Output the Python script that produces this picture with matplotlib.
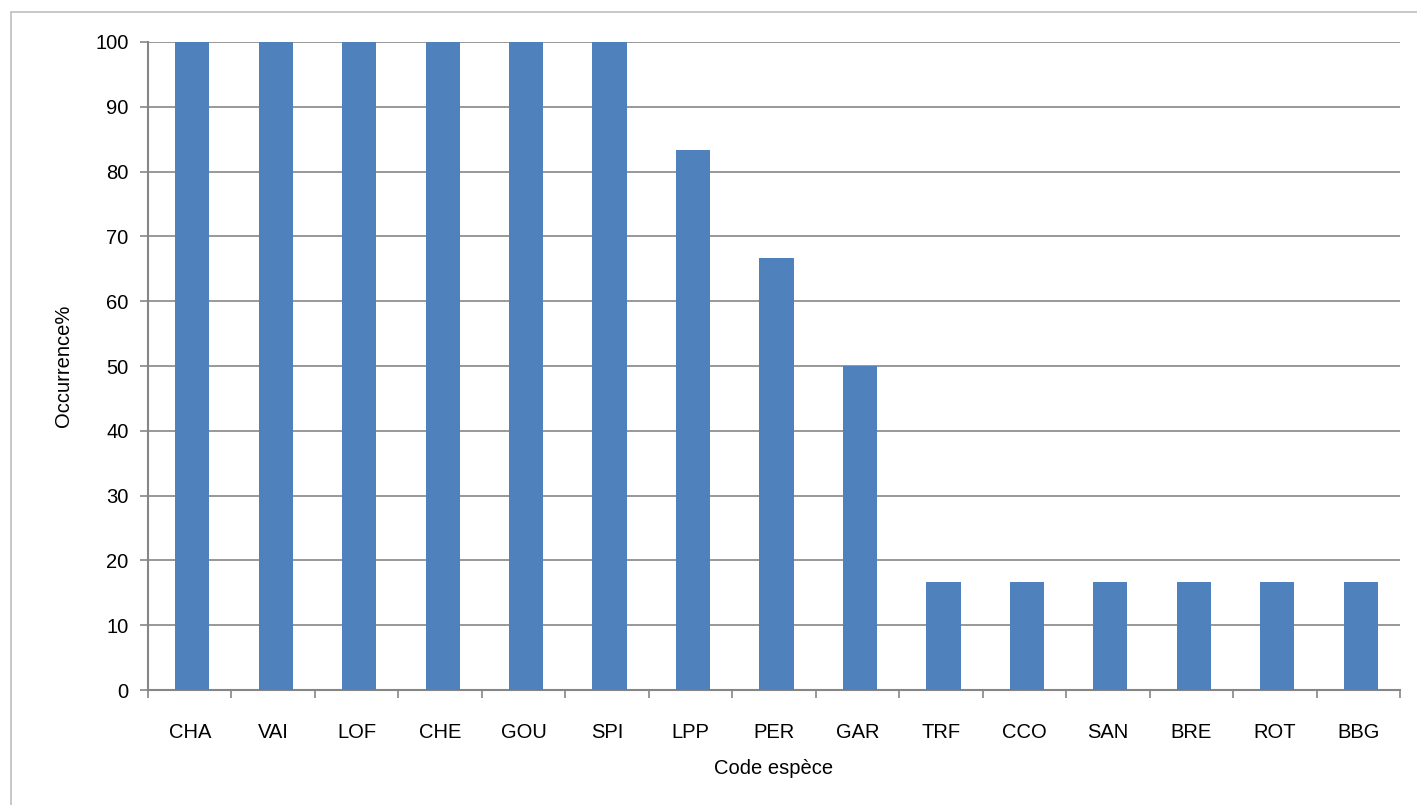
import matplotlib.pyplot as plt
from matplotlib.patches import Rectangle
import numpy as np

codes = ['CHA', 'VAI', 'LOF', 'CHE', 'GOU', 'SPI', 'LPP', 'PER', 'GAR',
         'TRF', 'CCO', 'SAN', 'BRE', 'ROT', 'BBG']
occurrence = [100, 100, 100, 100, 100, 100, 83.3, 66.7, 50,
              16.7, 16.7, 16.7, 16.7, 16.7, 16.7]

plt.rcParams['font.family'] = ['Liberation Sans', 'DejaVu Sans']
grey = '#868686'

fig = plt.figure(figsize=(14.17, 8.05), dpi=100)
# cadre autour du graphique
fig.patches.append(Rectangle((11/1417, -0.1), 1.2, (805-12)/805 + 0.1,
                             transform=fig.transFigure, fill=False,
                             edgecolor='#bfbfbf', linewidth=1.2))
ax = fig.add_axes([148/1417, 115/805, 1252/1417, 648/805])

x = np.arange(len(codes))
ax.bar(x + 0.03, occurrence, width=0.41, color='#4F81BD', zorder=3)

ax.set_xlim(-0.5, len(codes) - 0.5)
ax.set_ylim(0, 100)
ax.set_yticks(np.arange(0, 101, 10))
ax.set_xticks(x)
ax.set_xticklabels(codes)
ax.set_xticks(np.arange(-0.5, len(codes), 1), minor=True)
ax.tick_params(axis='x', which='major', length=0, pad=24, labelsize=14.5)
ax.tick_params(axis='x', which='minor', length=6, width=1.2, color=grey, direction='out')
ax.tick_params(axis='y', length=6, width=1.2, color=grey, labelsize=14.5, pad=8)
ax.grid(axis='y', color=grey, linewidth=1.2, zorder=0)

for s in ['top', 'right']:
    ax.spines[s].set_visible(False)
for s in ['left', 'bottom']:
    ax.spines[s].set_color(grey)
    ax.spines[s].set_linewidth(1.5)

ax.set_xlabel('Code espèce', fontsize=14.5, labelpad=12)
ax.set_ylabel('Occurrence%', fontsize=14.5, labelpad=16)

plt.savefig('out.png', dpi=100)
